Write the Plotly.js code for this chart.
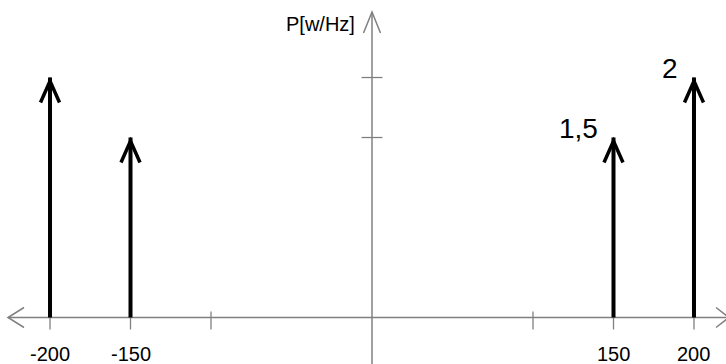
<!DOCTYPE html>
<html>
<head>
<meta charset="utf-8">
<script src="https://cdn.plot.ly/plotly-3.0.1.min.js"></script>
<style>html,body{margin:0;padding:0;background:#fff;}#chart{width:726px;height:364px;}</style>
</head>
<body>
<div id="chart"></div>
<script>
// ---- data ----
const freqs = [-200, -150, 150, 200];
const power = [2, 1.5, 1.5, 2];
const powerLabels = ['', '', '1,5', '2'];
const xTickVals = [-200, -150, -100, 100, 150, 200];
const xLabelVals = [-200, -150, 150, 200];
const xLabelText = ['-200', '-150', '150', '200'];
const yTickVals = [1.5, 2];
const yAxisTitle = 'P[w/Hz]';

// ---- style ----
const axisGrey = '#808080';
const font = 'Liberation Sans, Arial, sans-serif';

// stems
const sx = [], sy = [];
freqs.forEach((f, i) => { sx.push(f, f, null); sy.push(0, power[i], null); });
// tick marks
const tx = [], ty = [];
xTickVals.forEach(v => { tx.push(v, v, null); ty.push(0.05, -0.1, null); });
const vx = [], vy = [];
yTickVals.forEach(v => { vx.push(-6.5, 6.5, null); vy.push(v, v, null); });

const traces = [
  {x: tx, y: ty, mode: 'lines', line: {color: axisGrey, width: 1.3}, hoverinfo: 'skip', showlegend: false},
  {x: vx, y: vy, mode: 'lines', line: {color: axisGrey, width: 1.3}, hoverinfo: 'skip', showlegend: false},
  {x: sx, y: sy, mode: 'lines', line: {color: '#000', width: 4}, hoverinfo: 'skip', showlegend: false}
];

const shapes = [
  // x axis line
  {type: 'line', xref: 'paper', yref: 'y', x0: 8/726, x1: 1, y0: 0, y1: 0, line: {color: axisGrey, width: 1.5}, layer: 'below'},
  // y axis line
  {type: 'line', xref: 'x', yref: 'paper', x0: 0, x1: 0, y0: 0, y1: 1 - 12/364, line: {color: axisGrey, width: 1.5}, layer: 'below'},
  // axis arrow heads
  {type: 'path', xref: 'paper', yref: 'y', xsizemode: 'pixel', ysizemode: 'pixel', xanchor: 8/726, yanchor: 0,
    path: 'M16,-10 L0,0 L16,10', line: {color: axisGrey, width: 1.5}},
  {type: 'path', xref: 'paper', yref: 'y', xsizemode: 'pixel', ysizemode: 'pixel', xanchor: 1, yanchor: 0,
    path: 'M-10,-10 L3,0 L-10,10', line: {color: axisGrey, width: 1.5}},
  {type: 'path', xref: 'x', yref: 'paper', xsizemode: 'pixel', ysizemode: 'pixel', xanchor: 0, yanchor: 1 - 12/364,
    path: 'M-8.5,-21 L0,0 L8.5,-21', line: {color: axisGrey, width: 1.5}}
];
// stem arrow heads anchored at data points
freqs.forEach((f, i) => {
  shapes.push({type: 'path', xref: 'x', yref: 'y', xsizemode: 'pixel', ysizemode: 'pixel', xanchor: f, yanchor: power[i],
    path: 'M-9.5,-25 L0,-3.5 L9.5,-25', line: {color: '#000', width: 3.5}});
});

const annotations = [];
freqs.forEach((f, i) => {
  if (powerLabels[i]) {
    annotations.push({xref: 'x', yref: 'y', x: f, y: power[i], text: powerLabels[i], showarrow: false,
      xanchor: 'right', yanchor: 'middle', xshift: -14, yshift: 9,
      font: {family: font, size: 28, color: '#000'}});
  }
});
xLabelVals.forEach((v, i) => {
  annotations.push({xref: 'x', yref: 'y', x: v, y: -0.30, text: xLabelText[i], showarrow: false,
    xanchor: 'center', yanchor: 'middle', font: {family: font, size: 20, color: '#000'}});
});
annotations.push({xref: 'x', yref: 'paper', x: 0, y: 1 - 24/364, text: yAxisTitle, showarrow: false,
  xanchor: 'right', yanchor: 'middle', xshift: -15, font: {family: font, size: 20, color: '#000'}});

const layout = {
  width: 726, height: 364,
  margin: {l: 0, r: 0, t: 0, b: 0, pad: 0},
  paper_bgcolor: '#fff', plot_bgcolor: '#fff',
  showlegend: false,
  xaxis: {range: [-231.06, 219.88], visible: false, fixedrange: true},
  yaxis: {range: [-0.3875, 2.646], visible: false, fixedrange: true},
  shapes: shapes,
  annotations: annotations
};

Plotly.newPlot('chart', traces, layout, {displayModeBar: false, staticPlot: true});
</script>
</body>
</html>
